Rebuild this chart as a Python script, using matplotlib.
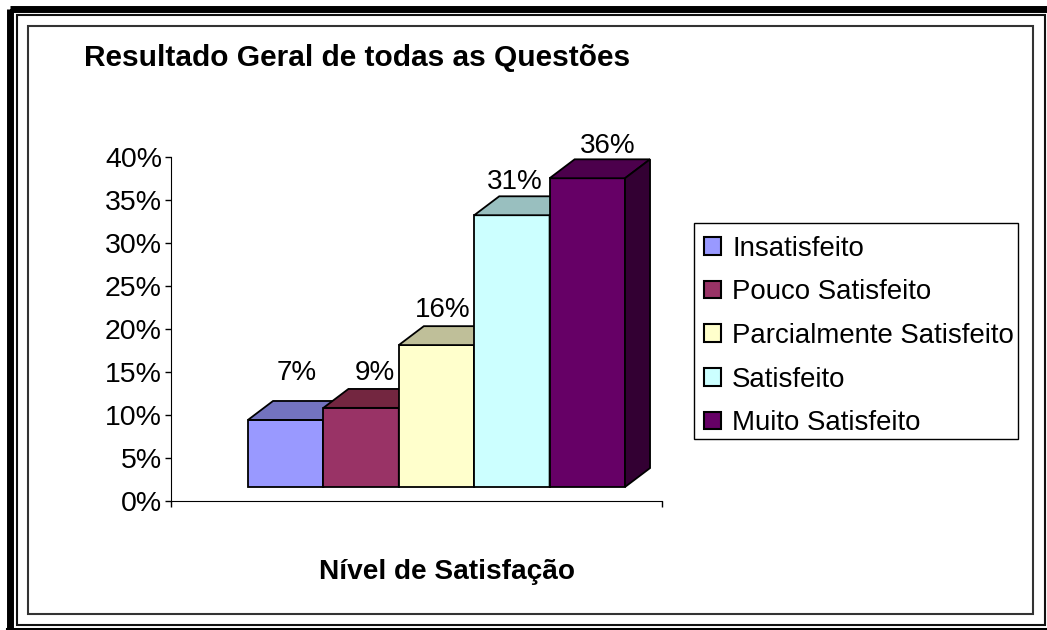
import matplotlib
matplotlib.use("Agg")
import matplotlib.pyplot as plt
from matplotlib.patches import Rectangle, Patch

plt.rcParams['font.family'] = ['Liberation Sans', 'DejaVu Sans']

# dados
categorias = ["Insatisfeito", "Pouco Satisfeito", "Parcialmente Satisfeito", "Satisfeito", "Muito Satisfeito"]
alturas = [7.8, 9.2, 16.5, 31.6, 35.9]
rotulos = ["7%", "9%", "16%", "31%", "36%"]
cores = ["#9999FF", "#993366", "#FFFFCC", "#CCFFFF", "#660066"]
cores_topo = ["#7373BF", "#732640", "#BFBF99", "#99BFBF", "#4C004C"]
cores_lado = ["#4C4C80", "#4C1A33", "#808066", "#668080", "#330033"]
ticks_y = [0, 5, 10, 15, 20, 25, 30, 35, 40]

W, H = 1047, 630
base = 1.63     # deslocamento da frente das barras
prof_x = 0.332  # profundidade em largura de barra
prof_y = 2.2    # profundidade em %
deslocamentos = [(11, 47), (14, 35), (6, 35), (3, 33), (20, 32)]

fig = plt.figure(figsize=(W / 100, H / 100), dpi=100, facecolor="white")

# fundo em pixels: molduras, titulo e legenda
bg = fig.add_axes([0, 0, 1, 1])
bg.set_xlim(0, W)
bg.set_ylim(H, 0)
bg.axis("off")

# moldura grossa externa
bg.add_patch(Rectangle((10, 8.5), W + 20, H + 20, fill=False, ec="black", lw=5))
bg.plot([7, W], [629, 629], color="black", lw=2.2, clip_on=False)
# moldura fina
bg.add_patch(Rectangle((16.5, 15), 1028.5, 610, fill=False, ec="#111111", lw=1.5))
# moldura interna do grafico
bg.add_patch(Rectangle((28, 26), 1005, 588, fill=False, ec="#333333", lw=1.5))

bg.text(84, 58, "Resultado Geral de todas as Questões", fontsize=21.5, fontweight="bold",
        ha="left", va="center")
bg.text(447, 572, "Nível de Satisfação", fontsize=20.2, fontweight="bold",
        ha="center", va="center")

# eixos
x0, x1, y_top, y_bot = 171, 662, 157, 501
ax = fig.add_axes([x0 / W, 1 - y_bot / H, (x1 - x0) / W, (y_bot - y_top) / H])
ax.patch.set_alpha(0)
ax.set_ylim(0, 40)
ax.set_xlim((x0 - 248) / 75.4, (x1 - 248) / 75.4)
ax.set_yticks(ticks_y)
ax.set_yticklabels([f"{t}%" for t in ticks_y], fontsize=20.5)
ax.set_xticks(ax.get_xlim())
ax.set_xticklabels([])
ax.tick_params(axis="both", length=4.5, width=1, direction="out", pad=2)
ax.spines["top"].set_visible(False)
ax.spines["right"].set_visible(False)

# barras com aparencia 3D
for i, alt in enumerate(alturas):
    ax.bar(i, alt, width=1, bottom=base, align="edge", color=cores[i], ec="black", lw=1.3,
           clip_on=False, zorder=3 + i)
    topo = alt + base
    ax.fill([i, i + prof_x, i + 1 + prof_x, i + 1], [topo, topo + prof_y, topo + prof_y, topo],
            fc=cores_topo[i], ec="black", lw=1.3, clip_on=False, zorder=3 + i)
    ax.fill([i + 1, i + 1 + prof_x, i + 1 + prof_x, i + 1],
            [base, base + prof_y, topo + prof_y, topo],
            fc=cores_lado[i], ec="black", lw=1.3, clip_on=False, zorder=3 + i)
    ax.annotate(rotulos[i], (i + 0.5, topo), xytext=deslocamentos[i], textcoords="offset pixels",
                ha="center", va="center", fontsize=20, zorder=20)

# legenda
bg.add_patch(Rectangle((694, 223), 324, 216, fc="white", ec="black", lw=1))
handles = [Patch(fc=c, ec="black", lw=1.5) for c in cores]
leg = bg.legend(handles, categorias, loc="upper left", bbox_to_anchor=(704, 235.5),
                bbox_transform=bg.transData, fontsize=19.9, frameon=False,
                borderaxespad=0, borderpad=0,
                handlelength=0.62, handleheight=0.62, handletextpad=0.4, labelspacing=0.64)

fig.savefig("out.png", dpi=100)
